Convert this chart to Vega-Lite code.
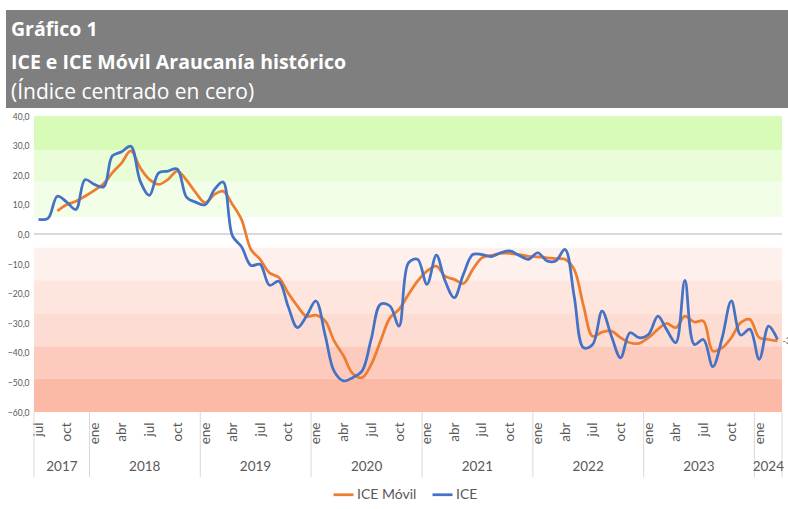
{
  "$schema": "https://vega.github.io/schema/vega-lite/v6.json",
  "padding": {"left": 5, "top": 10, "right": 0, "bottom": 0},
  "background": "white",
  "config": {"font": "Lato", "view": {"stroke": null}, "legend": {"layout": {"bottom": {"anchor": "middle"}}}},
  "spacing": 4,
  "vconcat": [
    {
      "width": 755,
      "height": 98,
      "view": {"fill": "#7f7f7f", "stroke": null},
      "title": {
        "text": ["Gráfico 1", "ICE e ICE Móvil Araucanía histórico"],
        "subtitle": "(Índice centrado en cero)",
        "orient": "top",
        "anchor": "start",
        "frame": "group",
        "offset": -94,
        "dx": -23,
        "color": "#ffffff",
        "subtitleColor": "#ffffff",
        "font": "Open Sans",
        "fontSize": 19.5,
        "fontWeight": "bold",
        "lineHeight": 32.5,
        "subtitleFont": "Open Sans",
        "subtitleFontSize": 21,
        "subtitleFontWeight": "normal",
        "subtitlePadding": 9
      },
      "data": {"values": [{"encabezado": "Gráfico 1"}]},
      "mark": {"type": "rect", "color": "#7f7f7f"},
      "encoding": {
        "x": {"datum": -0.0371, "type": "quantitative", "scale": {"domain": [0, 1], "nice": false, "zero": false}, "axis": null},
        "x2": {"datum": 1}
      }
    },
    {
      "width": 748,
      "height": 296,
      "data": {"values": [
        {"fecha": "2017-07-01", "ICE": 5.1, "ICE Móvil": null},
        {"fecha": "2017-08-01", "ICE": 5.4, "ICE Móvil": null},
        {"fecha": "2017-09-01", "ICE": 12.9, "ICE Móvil": 7.9},
        {"fecha": "2017-10-01", "ICE": 11.0, "ICE Móvil": 10.0},
        {"fecha": "2017-11-01", "ICE": 8.4, "ICE Móvil": 11.2},
        {"fecha": "2017-12-01", "ICE": 18.5, "ICE Móvil": 12.9},
        {"fecha": "2018-01-01", "ICE": 16.9, "ICE Móvil": 14.9},
        {"fecha": "2018-02-01", "ICE": 16.1, "ICE Móvil": 17.2},
        {"fecha": "2018-03-01", "ICE": 26.5, "ICE Móvil": 20.8},
        {"fecha": "2018-04-01", "ICE": 27.9, "ICE Móvil": 24.2},
        {"fecha": "2018-05-01", "ICE": 29.8, "ICE Móvil": 28.2},
        {"fecha": "2018-06-01", "ICE": 18.0, "ICE Móvil": 22.5},
        {"fecha": "2018-07-01", "ICE": 13.2, "ICE Móvil": 18.6},
        {"fecha": "2018-08-01", "ICE": 20.8, "ICE Móvil": 16.9},
        {"fecha": "2018-09-01", "ICE": 21.4, "ICE Móvil": 18.6},
        {"fecha": "2018-10-01", "ICE": 22.1, "ICE Móvil": 21.4},
        {"fecha": "2018-11-01", "ICE": 12.5, "ICE Móvil": 18.3},
        {"fecha": "2018-12-01", "ICE": 10.9, "ICE Móvil": 14.1},
        {"fecha": "2019-01-01", "ICE": 10.0, "ICE Móvil": 10.7},
        {"fecha": "2019-02-01", "ICE": 15.2, "ICE Móvil": 13.5},
        {"fecha": "2019-03-01", "ICE": 17.7, "ICE Móvil": 14.6},
        {"fecha": "2019-04-01", "ICE": -0.5, "ICE Móvil": 10.1},
        {"fecha": "2019-05-01", "ICE": -4.2, "ICE Móvil": 5.0},
        {"fecha": "2019-06-01", "ICE": -10.5, "ICE Móvil": -5.1},
        {"fecha": "2019-07-01", "ICE": -10.1, "ICE Móvil": -8.4},
        {"fecha": "2019-08-01", "ICE": -17.2, "ICE Móvil": -13.0},
        {"fecha": "2019-09-01", "ICE": -15.8, "ICE Móvil": -14.6},
        {"fecha": "2019-10-01", "ICE": -24.2, "ICE Móvil": -19.7},
        {"fecha": "2019-11-01", "ICE": -31.5, "ICE Móvil": -24.2},
        {"fecha": "2019-12-01", "ICE": -27.6, "ICE Móvil": -27.7},
        {"fecha": "2020-01-01", "ICE": -22.5, "ICE Móvil": -27.3},
        {"fecha": "2020-02-01", "ICE": -34.3, "ICE Móvil": -29.3},
        {"fecha": "2020-03-01", "ICE": -46.2, "ICE Móvil": -36.0},
        {"fecha": "2020-04-01", "ICE": -49.5, "ICE Móvil": -41.0},
        {"fecha": "2020-05-01", "ICE": -48.4, "ICE Móvil": -47.0},
        {"fecha": "2020-06-01", "ICE": -46.2, "ICE Móvil": -48.4},
        {"fecha": "2020-07-01", "ICE": -35.5, "ICE Móvil": -44.0},
        {"fecha": "2020-08-01", "ICE": -23.6, "ICE Móvil": -36.0},
        {"fecha": "2020-09-01", "ICE": -24.2, "ICE Móvil": -28.2},
        {"fecha": "2020-10-01", "ICE": -31.0, "ICE Móvil": -25.3},
        {"fecha": "2020-11-01", "ICE": -9.6, "ICE Móvil": -20.3},
        {"fecha": "2020-12-01", "ICE": -8.4, "ICE Móvil": -15.8},
        {"fecha": "2021-01-01", "ICE": -16.9, "ICE Móvil": -12.4},
        {"fecha": "2021-02-01", "ICE": -7.0, "ICE Móvil": -10.7},
        {"fecha": "2021-03-01", "ICE": -15.5, "ICE Móvil": -14.1},
        {"fecha": "2021-04-01", "ICE": -21.4, "ICE Móvil": -15.2},
        {"fecha": "2021-05-01", "ICE": -13.5, "ICE Móvil": -16.6},
        {"fecha": "2021-06-01", "ICE": -6.8, "ICE Móvil": -11.8},
        {"fecha": "2021-07-01", "ICE": -6.8, "ICE Móvil": -7.9},
        {"fecha": "2021-08-01", "ICE": -7.5, "ICE Móvil": -7.1},
        {"fecha": "2021-09-01", "ICE": -6.2, "ICE Móvil": -6.4},
        {"fecha": "2021-10-01", "ICE": -5.6, "ICE Móvil": -6.4},
        {"fecha": "2021-11-01", "ICE": -7.1, "ICE Móvil": -6.8},
        {"fecha": "2021-12-01", "ICE": -8.4, "ICE Móvil": -7.4},
        {"fecha": "2022-01-01", "ICE": -6.2, "ICE Móvil": -7.6},
        {"fecha": "2022-02-01", "ICE": -9.0, "ICE Móvil": -7.9},
        {"fecha": "2022-03-01", "ICE": -9.0, "ICE Móvil": -8.2},
        {"fecha": "2022-04-01", "ICE": -5.1, "ICE Móvil": -8.4},
        {"fecha": "2022-05-01", "ICE": -20.8, "ICE Móvil": -11.8},
        {"fecha": "2022-06-01", "ICE": -38.3, "ICE Móvil": -24.2},
        {"fecha": "2022-07-01", "ICE": -37.2, "ICE Móvil": -34.4},
        {"fecha": "2022-08-01", "ICE": -25.9, "ICE Móvil": -33.0},
        {"fecha": "2022-09-01", "ICE": -34.4, "ICE Móvil": -32.7},
        {"fecha": "2022-10-01", "ICE": -41.7, "ICE Móvil": -34.9},
        {"fecha": "2022-11-01", "ICE": -33.2, "ICE Móvil": -36.6},
        {"fecha": "2022-12-01", "ICE": -34.9, "ICE Móvil": -36.8},
        {"fecha": "2023-01-01", "ICE": -33.8, "ICE Móvil": -34.9},
        {"fecha": "2023-02-01", "ICE": -27.6, "ICE Móvil": -32.1},
        {"fecha": "2023-03-01", "ICE": -32.0, "ICE Móvil": -30.1},
        {"fecha": "2023-04-01", "ICE": -36.6, "ICE Móvil": -31.5},
        {"fecha": "2023-05-01", "ICE": -15.5, "ICE Móvil": -27.6},
        {"fecha": "2023-06-01", "ICE": -37.2, "ICE Móvil": -29.6},
        {"fecha": "2023-07-01", "ICE": -35.5, "ICE Móvil": -29.3},
        {"fecha": "2023-08-01", "ICE": -44.7, "ICE Móvil": -39.4},
        {"fecha": "2023-09-01", "ICE": -34.9, "ICE Móvil": -38.3},
        {"fecha": "2023-10-01", "ICE": -22.5, "ICE Móvil": -34.9},
        {"fecha": "2023-11-01", "ICE": -34.0, "ICE Móvil": -29.8},
        {"fecha": "2023-12-01", "ICE": -32.0, "ICE Móvil": -28.7},
        {"fecha": "2024-01-01", "ICE": -42.2, "ICE Móvil": -34.9},
        {"fecha": "2024-02-01", "ICE": -31.0, "ICE Móvil": -35.5},
        {"fecha": "2024-03-01", "ICE": -35.5, "ICE Móvil": -36.0, "etiqueta": "-36,0"}
      ]},
      "transform": [{"fold": ["ICE Móvil", "ICE"], "as": ["serie", "valor"]}],
      "layer": [
        {
          "data": {"values": [
            {"banda": "v1", "desde": 28.4, "hasta": 40},
            {"banda": "v2", "desde": 17.6, "hasta": 28.4},
            {"banda": "v3", "desde": 5.9, "hasta": 17.6},
            {"banda": "r1", "desde": -15.5, "hasta": -4.5},
            {"banda": "r2", "desde": -26.9, "hasta": -15.5},
            {"banda": "r3", "desde": -37.8, "hasta": -26.9},
            {"banda": "r4", "desde": -48.8, "hasta": -37.8},
            {"banda": "r5", "desde": -60, "hasta": -48.8}
          ]},
          "mark": {"type": "rect"},
          "encoding": {
            "y": {
              "field": "desde", "type": "quantitative",
              "scale": {"domain": [-60, 40], "nice": false, "zero": false},
              "axis": {"tickCount": 10, "labelExpr": "replace(format(datum.value, '.1f'), '.', ',')", "labelFontSize": 8.5, "labelColor": "#595959", "labelPadding": 5, "labelOverlap": false, "ticks": false, "domain": false, "grid": false, "title": null}
            },
            "y2": {"field": "hasta"},
            "fill": {
              "field": "banda", "type": "nominal",
              "scale": {
                "domain": ["v1", "v2", "v3", "r1", "r2", "r3", "r4", "r5"],
                "range": ["#d9fbb8", "#e9fdd9", "#f3fee9", "#fef0ec", "#fee6df", "#fddcd3", "#fdcbbe", "#fcb9a6"]
              },
              "legend": null
            }
          }
        },
        {
          "mark": {"type": "rule", "color": "#d9d9d9", "strokeWidth": 1},
          "encoding": {
            "y": {"datum": 0, "type": "quantitative",
              "axis": {"tickCount": 10, "labelExpr": "replace(format(datum.value, '.1f'), '.', ',')", "labelFontSize": 8.5, "labelColor": "#595959", "labelPadding": 5, "labelOverlap": false, "ticks": false, "domain": false, "grid": false, "title": null}
            }
          }
        },
        {
          "mark": {"type": "line", "interpolate": "catmull-rom", "strokeWidth": 2.75},
          "encoding": {
            "x": {
              "field": "fecha", "type": "temporal",
              "scale": {"type": "utc", "domain": [{"year": 2017, "month": 6, "date": 16, "utc": true}, {"year": 2024, "month": 3, "date": 16, "utc": true}]},
              "axis": {"tickCount": {"interval": "month", "step": 3}, "labelExpr": "['ene','feb','mar','abr','may','jun','jul','ago','sep','oct','nov','dic'][utcmonth(datum.value)]", "labelAngle": -90, "labelAlign": "right", "labelBaseline": "middle", "labelFontSize": 13.5, "labelColor": "#595959", "labelPadding": 10, "labelFlush": false, "labelOverlap": false, "ticks": false, "tickSize": 0, "domain": false, "grid": false, "title": null}
            },
            "y": {"field": "valor", "type": "quantitative",
              "axis": {"tickCount": 10, "labelExpr": "replace(format(datum.value, '.1f'), '.', ',')", "labelFontSize": 8.5, "labelColor": "#595959", "labelPadding": 5, "labelOverlap": false, "ticks": false, "domain": false, "grid": false, "title": null}
            },
            "color": {
              "field": "serie", "type": "nominal",
              "scale": {"domain": ["ICE Móvil", "ICE"], "range": ["#ed7d31", "#4472c4"]},
              "legend": {
                "orient": "bottom", "direction": "horizontal", "title": null,
                "labelFontSize": 14, "labelColor": "#595959",
                "symbolType": "stroke", "symbolStrokeWidth": 2.75, "symbolSize": 400,
                "columnPadding": 10, "labelOffset": 2, "offset": 5
              }
            }
          }
        },
        {
          "transform": [{"filter": "datum.serie === 'ICE Móvil' && datum.etiqueta"}],
          "mark": {"type": "text", "align": "left", "dx": 5, "fontSize": 9, "color": "#595959"},
          "encoding": {
            "x": {"field": "fecha", "type": "temporal",
              "axis": {"tickCount": {"interval": "month", "step": 3}, "labelExpr": "['ene','feb','mar','abr','may','jun','jul','ago','sep','oct','nov','dic'][utcmonth(datum.value)]", "labelAngle": -90, "labelAlign": "right", "labelBaseline": "middle", "labelFontSize": 13.5, "labelColor": "#595959", "labelPadding": 10, "labelFlush": false, "labelOverlap": false, "ticks": false, "tickSize": 0, "domain": false, "grid": false, "title": null}
            },
            "y": {"field": "valor", "type": "quantitative",
              "axis": {"tickCount": 10, "labelExpr": "replace(format(datum.value, '.1f'), '.', ',')", "labelFontSize": 8.5, "labelColor": "#595959", "labelPadding": 5, "labelOverlap": false, "ticks": false, "domain": false, "grid": false, "title": null}
            },
            "text": {"field": "etiqueta"}
          }
        },
        {
          "data": {"values": [
            {"limite": "2017-06-16"}, {"limite": "2017-12-16"}, {"limite": "2018-12-16"},
            {"limite": "2019-12-16"}, {"limite": "2020-12-16"}, {"limite": "2021-12-16"},
            {"limite": "2022-12-16"}, {"limite": "2023-12-16"}, {"limite": "2024-03-16"}
          ]},
          "mark": {"type": "rule", "color": "#d9d9d9", "strokeWidth": 1},
          "encoding": {
            "x": {"field": "limite", "type": "temporal",
              "axis": {"tickCount": {"interval": "month", "step": 3}, "labelExpr": "['ene','feb','mar','abr','may','jun','jul','ago','sep','oct','nov','dic'][utcmonth(datum.value)]", "labelAngle": -90, "labelAlign": "right", "labelBaseline": "middle", "labelFontSize": 13.5, "labelColor": "#595959", "labelPadding": 10, "labelFlush": false, "labelOverlap": false, "ticks": false, "tickSize": 0, "domain": false, "grid": false, "title": null}
            },
            "y": {"datum": -60, "type": "quantitative",
              "axis": {"tickCount": 10, "labelExpr": "replace(format(datum.value, '.1f'), '.', ',')", "labelFontSize": 8.5, "labelColor": "#595959", "labelPadding": 5, "labelOverlap": false, "ticks": false, "domain": false, "grid": false, "title": null}
            },
            "y2": {"datum": -82}
          }
        },
        {
          "data": {"values": [
            {"anio": "2017", "centro": "2017-09-16"},
            {"anio": "2018", "centro": "2018-06-16"},
            {"anio": "2019", "centro": "2019-06-16"},
            {"anio": "2020", "centro": "2020-06-16"},
            {"anio": "2021", "centro": "2021-06-16"},
            {"anio": "2022", "centro": "2022-06-16"},
            {"anio": "2023", "centro": "2023-06-16"},
            {"anio": "2024", "centro": "2024-01-31"}
          ]},
          "mark": {"type": "text", "fontSize": 13.5, "color": "#595959", "baseline": "middle"},
          "encoding": {
            "x": {"field": "centro", "type": "temporal",
              "axis": {"tickCount": {"interval": "month", "step": 3}, "labelExpr": "['ene','feb','mar','abr','may','jun','jul','ago','sep','oct','nov','dic'][utcmonth(datum.value)]", "labelAngle": -90, "labelAlign": "right", "labelBaseline": "middle", "labelFontSize": 13.5, "labelColor": "#595959", "labelPadding": 10, "labelFlush": false, "labelOverlap": false, "ticks": false, "tickSize": 0, "domain": false, "grid": false, "title": null}
            },
            "y": {"datum": -78.5, "type": "quantitative",
              "axis": {"tickCount": 10, "labelExpr": "replace(format(datum.value, '.1f'), '.', ',')", "labelFontSize": 8.5, "labelColor": "#595959", "labelPadding": 5, "labelOverlap": false, "ticks": false, "domain": false, "grid": false, "title": null}
            },
            "text": {"field": "anio"}
          }
        }
      ]
    }
  ]
}
